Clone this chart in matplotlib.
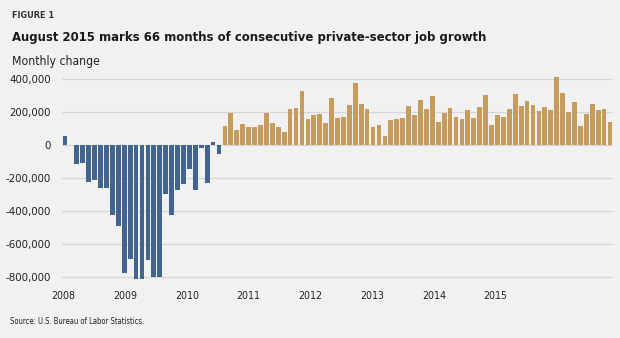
import matplotlib
matplotlib.use("Agg")
import matplotlib.pyplot as plt
import numpy as np

#==============================================================================
# Data: monthly change in private-sector payrolls, Dec 2007 - Aug 2015
#==============================================================================
loss_months = [55, 3, -115, -107, -223, -209, -261, -261, -421, -488, -772,
               -687, -813, -812, -695, -800, -796, -294, -424, -269, -233,
               -144, -273, -14, -231, 18, -55]
growth_months = [118, 198, 92, 129, 108, 112, 122, 198, 133, 110, 78, 218,
                 224, 331, 159, 186, 190, 137, 286, 165, 173, 245, 380, 249,
                 218, 110, 122, 55, 153, 161, 163, 239, 186, 276, 220, 296,
                 139, 196, 227, 171, 161, 212, 167, 235, 304, 122, 184, 173,
                 220, 312, 239, 271, 243, 208, 233, 216, 412, 318, 200, 261,
                 116, 190, 251, 216, 222, 141]
years = ['2008', '2009', '2010', '2011', '2012', '2013', '2014', '2015']
yticks = [400000, 200000, 0, -200000, -400000, -600000, -800000]

loss = np.array(loss_months) * 1000
growth = np.array(growth_months) * 1000

#==============================================================================
# Figure
#==============================================================================
bg = '#f1f1f1'
blue = '#41658f'
tan = '#c69c5e'
plt.rcParams['font.family'] = ['DejaVu Sans']
plt.rcParams['font.stretch'] = 'condensed'

fig = plt.figure(figsize=(6.2, 3.38), dpi=100, facecolor=bg)
ax = fig.add_axes([62/620, 1 - 283/338, 551/620, (283 - 76)/338])
ax.set_facecolor(bg)

x_loss = np.arange(len(loss))
x_growth = np.arange(len(growth)) + len(loss)
ax.bar(x_loss, loss, width=0.8, color=blue, zorder=3)
ax.bar(x_growth, growth, width=0.8, color=tan, zorder=3)

ax.set_xlim(-0.5, len(loss) + len(growth) - 0.5)
ax.set_ylim(-835000, 420000)

ax.set_yticks(yticks)
ax.set_yticklabels(['{:,}'.format(v) if v != 0 else '0' for v in yticks],
                   fontsize=8.2, color='#222222')
ax.grid(axis='y', color='#d6d6d6', linewidth=0.9, zorder=0)

# year labels are spread evenly under the bars
ax.set_xticks(np.arange(len(years)) * 10.43 - 0.3)
ax.set_xticklabels(years, fontsize=7.6, color='#222222')
ax.tick_params(length=0, pad=6)
ax.tick_params(axis='y', pad=8)
for s in ax.spines.values():
    s.set_visible(False)

fig.text(12/620, 1 - 16/338, 'FIGURE 1', fontsize=6.5, fontweight='bold',
         color='#333333', va='center')
fig.text(12/620, 1 - 37/338,
         'August 2015 marks 66 months of consecutive private-sector job growth',
         fontsize=9.4, fontweight='bold', color='#1a1a1a', va='center')
fig.text(12/620, 1 - 61/338, 'Monthly change', fontsize=8.7,
         color='#222222', va='center')
fig.text(10/620, 1 - 322/338, 'Source: U.S. Bureau of Labor Statistics.',
         fontsize=5.5, color='#222222', va='center')

fig.savefig('out.png', dpi=100, facecolor=bg)
